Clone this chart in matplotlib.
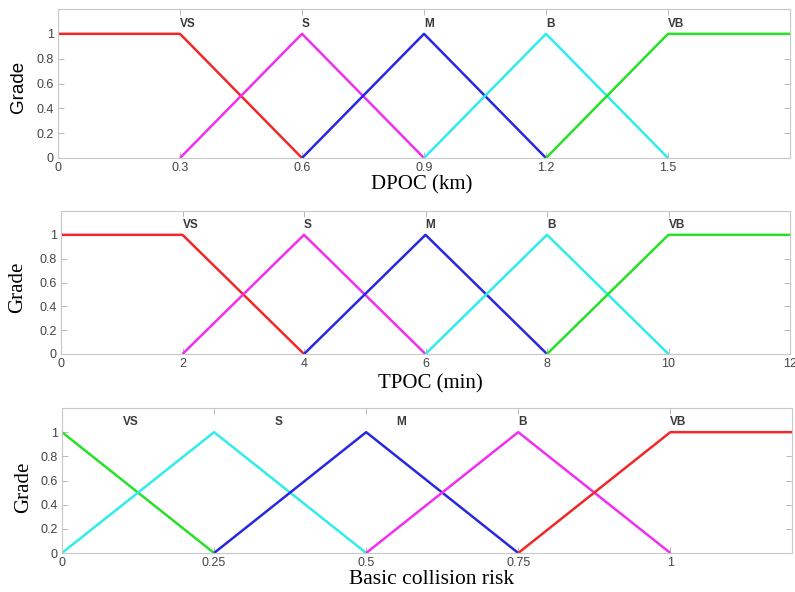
import matplotlib
matplotlib.use('Agg')
import matplotlib.pyplot as plt
from matplotlib.ticker import FormatStrFormatter

W, H = 795, 592

# membership functions: breakpoints (x) and grades (y) for each set
names = ['VS', 'S', 'M', 'B', 'VB']
grade_shoulder_l = [1, 1, 0]
grade_tri = [0, 1, 0]
grade_shoulder_r = [0, 1, 1]

dpoc_x = [[0, 0.3, 0.6], [0.3, 0.6, 0.9], [0.6, 0.9, 1.2], [0.9, 1.2, 1.5], [1.2, 1.5, 1.8]]
dpoc_y = [grade_shoulder_l, grade_tri, grade_tri, grade_tri, grade_shoulder_r]
dpoc_ticks = [0, 0.3, 0.6, 0.9, 1.2, 1.5]
dpoc_lab = [0.3, 0.6, 0.9, 1.2, 1.5]

tpoc_x = [[0, 2, 4], [2, 4, 6], [4, 6, 8], [6, 8, 10], [8, 10, 12]]
tpoc_y = [grade_shoulder_l, grade_tri, grade_tri, grade_tri, grade_shoulder_r]
tpoc_ticks = [0, 2, 4, 6, 8, 10, 12]
tpoc_lab = [2, 4, 6, 8, 10]

risk_x = [[0, 0.25], [0, 0.25, 0.5], [0.25, 0.5, 0.75], [0.5, 0.75, 1], [0.75, 1, 1.2]]
risk_y = [[1, 0], grade_tri, grade_tri, grade_tri, grade_shoulder_r]
risk_ticks = [0, 0.25, 0.5, 0.75, 1]
risk_lab = [0.10, 0.35, 0.55, 0.75, 1.0]

red, mag, blue, cyan, green = '#f02828', '#f030f0', '#2828e0', '#30ecec', '#28e028'
cols12 = [red, mag, blue, cyan, green]
cols3 = [green, cyan, blue, mag, red]

panels = [
    # x data, y data, ticks, label pos, colors, xlim, axes px box (l, top, r, bottom)
    (dpoc_x, dpoc_y, dpoc_ticks, dpoc_lab, cols12, 1.8, (58, 9, 790, 158)),
    (tpoc_x, tpoc_y, tpoc_ticks, tpoc_lab, cols12, 12, (61, 211, 790, 354)),
    (risk_x, risk_y, risk_ticks, risk_lab, cols3, 1.2, (62, 408, 792, 553)),
]

fig = plt.figure(figsize=(W / 100, H / 100), dpi=100)
serif = 'Liberation Serif'
sans = 'Liberation Sans'

for xs, ys, ticks, labx, cols, xmax, (l, t, r, b) in panels:
    ax = fig.add_axes([l / W, 1 - b / H, (r - l) / W, (b - t) / H])
    for xx, yy, c in zip(xs, ys, cols):
        ax.plot(xx, yy, color=c, lw=1.8, solid_capstyle='butt')
    for n, xp in zip(names, labx):
        ax.text(xp, 1.08, n, fontsize=8.5, family=sans, color='#3a3a3a',
                ha='left', va='center', fontweight='bold')
    ax.set_xlim(0, xmax)
    ax.set_ylim(0, 1.2)
    ax.set_xticks(ticks)
    ax.set_yticks([0, 0.2, 0.4, 0.6, 0.8, 1])
    ax.xaxis.set_major_formatter(FormatStrFormatter('%g'))
    ax.yaxis.set_major_formatter(FormatStrFormatter('%g'))
    ax.tick_params(direction='in', length=4, width=0.6, color='#b0b0b0',
                   labelcolor='#444444', labelsize=9, top=True, right=True,
                   pad=3)
    for lab in ax.get_xticklabels() + ax.get_yticklabels():
        lab.set_family(sans)
    for s in ax.spines.values():
        s.set_color('#c8c8c8')
        s.set_linewidth(0.8)

fig.text(0.530, 1 - 185 / H, 'DPOC (km)', family=serif, fontsize=15,
         ha='center', va='center')
fig.text(0.541, 1 - 384 / H, 'TPOC (min)', family=serif, fontsize=15,
         ha='center', va='center')
fig.text(0.543, 1 - 579 / H, 'Basic collision risk', family=serif, fontsize=15.5,
         ha='center', va='center')

fig.text(18 / W, 1 - 87 / H, 'Grade', family=sans, fontsize=13.5,
         rotation=90, ha='center', va='center')
fig.text(18 / W, 1 - 287 / H, 'Grade', family=serif, fontsize=15,
         rotation=90, ha='center', va='center')
fig.text(24 / W, 1 - 487 / H, 'Grade', family=serif, fontsize=15,
         rotation=90, ha='center', va='center')

fig.savefig('out.png', dpi=100)
